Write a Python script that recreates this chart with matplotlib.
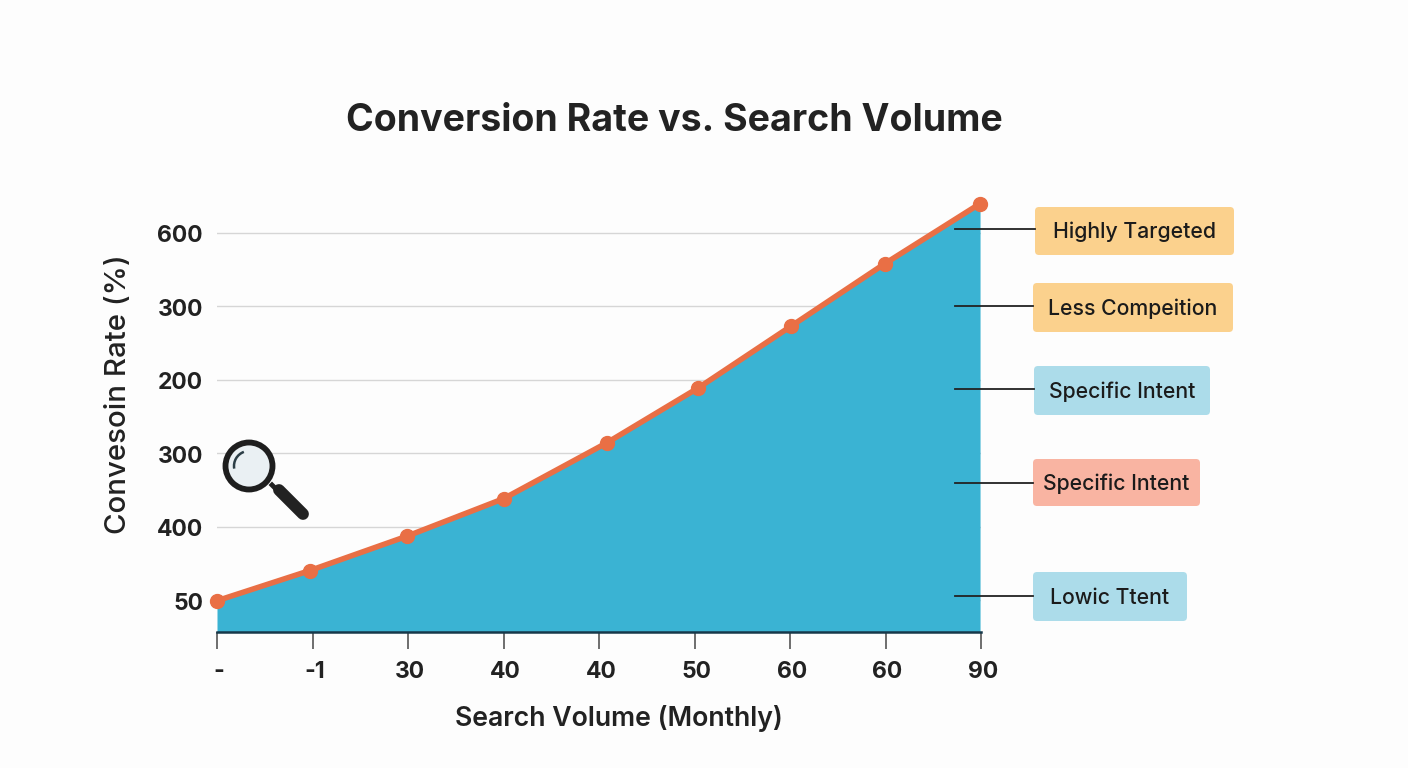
import matplotlib
matplotlib.use("Agg")
import matplotlib.pyplot as plt
from matplotlib.patches import FancyBboxPatch, Circle, Arc
from matplotlib.lines import Line2D
from matplotlib.transforms import ScaledTranslation

plt.rcParams['font.family'] = ['Inter', 'DejaVu Sans']

title = "Conversion Rate vs. Search Volume"
x_title = "Search Volume (Monthly)"
y_title = "Convesoin Rate (%)"
x_labels = ["-", "-1", "30", "40", "40", "50", "60", "60", "90"]
y_labels = ["50", "400", "300", "200", "300", "600"]
x_pos = [0, 0.97, 1.99, 3.0, 4.08, 5.04, 6.01, 6.99, 7.99]
y_pos = [-0.01, 0.40, 0.87, 1.38, 2.14, 2.89, 3.73, 4.58, 5.40]
callouts = ["Highly Targeted", "Less Compeition", "Specific Intent", "Specific Intent", "Lowic Ttent"]
callout_colors = ["#fbd18d", "#fbd18d", "#acdcea", "#f9b4a2", "#acdcea"]

W, H = 1408, 768
fig = plt.figure(figsize=(W/100, H/100), dpi=100, facecolor="#fdfdfd")

L, R, T, B = 217, 981, 190, 632
ax = fig.add_axes([L/W, 1-B/H, (R-L)/W, (B-T)/H], facecolor="none")
ax.set_xlim(0, 8)
y0 = -32/73.4
ax.set_ylim(y0, y0 + (B-T)/73.4)

ax.fill_between(x_pos, y_pos, y0, color="#3ab3d3", lw=0, zorder=2)
ax.plot(x_pos, y_pos, color="#e96f45", lw=4, marker="o", ms=10, zorder=4, clip_on=False,
        solid_capstyle="round")
ax.set_yticks(range(len(y_labels)))
ax.set_yticklabels(y_labels, fontsize=16.5, fontweight="bold", color="#222222")
ax.set_xticks(range(len(x_labels)))
ax.set_xticklabels(x_labels, fontsize=16.5, fontweight="bold", color="#222222")
ax.tick_params(axis="y", length=0, pad=10)
ax.tick_params(axis="x", length=12, width=1.2, color="#555555", pad=9)
shift_x = ScaledTranslation(2/100, 0, fig.dpi_scale_trans)
for lab in ax.get_xticklabels():
    lab.set_transform(lab.get_transform() + shift_x)
shift_y = ScaledTranslation(0, -1/100, fig.dpi_scale_trans)
for lab in ax.get_yticklabels():
    lab.set_transform(lab.get_transform() + shift_y)
ax.grid(axis="y", color="#d6d6d6", lw=1.0, zorder=1)
ax.grid(axis="x", visible=False)
for s in ["top", "right", "left"]:
    ax.spines[s].set_visible(False)
ax.spines["bottom"].set_color("#16384a")
ax.spines["bottom"].set_linewidth(1.8)
ax.spines["bottom"].set_zorder(5)

# overlay in picture pixels for title, labels, callouts and icon
ov = fig.add_axes([0, 0, 1, 1], facecolor="none")
ov.set_xlim(0, W)
ov.set_ylim(H, 0)
ov.axis("off")
ov.text(674, 121, title, fontsize=27, fontweight="bold", color="#222222", ha="center", va="center")
ov.text(619, 718, x_title, fontsize=19.2, fontweight="semibold", color="#222222", ha="center", va="center")
ov.text(118, 394, y_title, fontsize=21.2, fontweight="medium", color="#222222", ha="center", va="center", rotation=90)

boxes = [(1035, 207, 1234, 255, 229), (1033, 283, 1233, 332, 306), (1034, 366, 1210, 415, 389),
         (1033, 459, 1200, 506, 483), (1033, 572, 1187, 621, 596)]
for (x1, y1, x2, y2, ly), lab, col in zip(boxes, callouts, callout_colors):
    ov.add_line(Line2D([955, x1], [ly, ly], color="#222222", lw=1.3))
    ov.add_patch(FancyBboxPatch((x1+4, y1+4), x2-x1-8, y2-y1-8, boxstyle="round,pad=4,rounding_size=4",
                                fc=col, ec="none"))
    ov.text((x1+x2)/2, (y1+y2)/2 + 1, lab, fontsize=15.3, fontweight="medium", color="#1b1b1b",
            ha="center", va="center")

# magnifying glass
ov.add_line(Line2D([272, 280], [485, 493], color="#222222", lw=3.5))
ov.add_line(Line2D([279, 303], [490, 514], color="#222222", lw=8.5, solid_capstyle="round"))
ov.add_patch(Circle((249, 466), 23.5, fc="#eaf0f3", ec="#1e1e1e", lw=4.2))
ov.add_patch(Arc((249, 466), 30, 30, theta1=170, theta2=250, color="#2c3e46", lw=1.8))

fig.savefig("out.png", dpi=100, facecolor=fig.get_facecolor())
